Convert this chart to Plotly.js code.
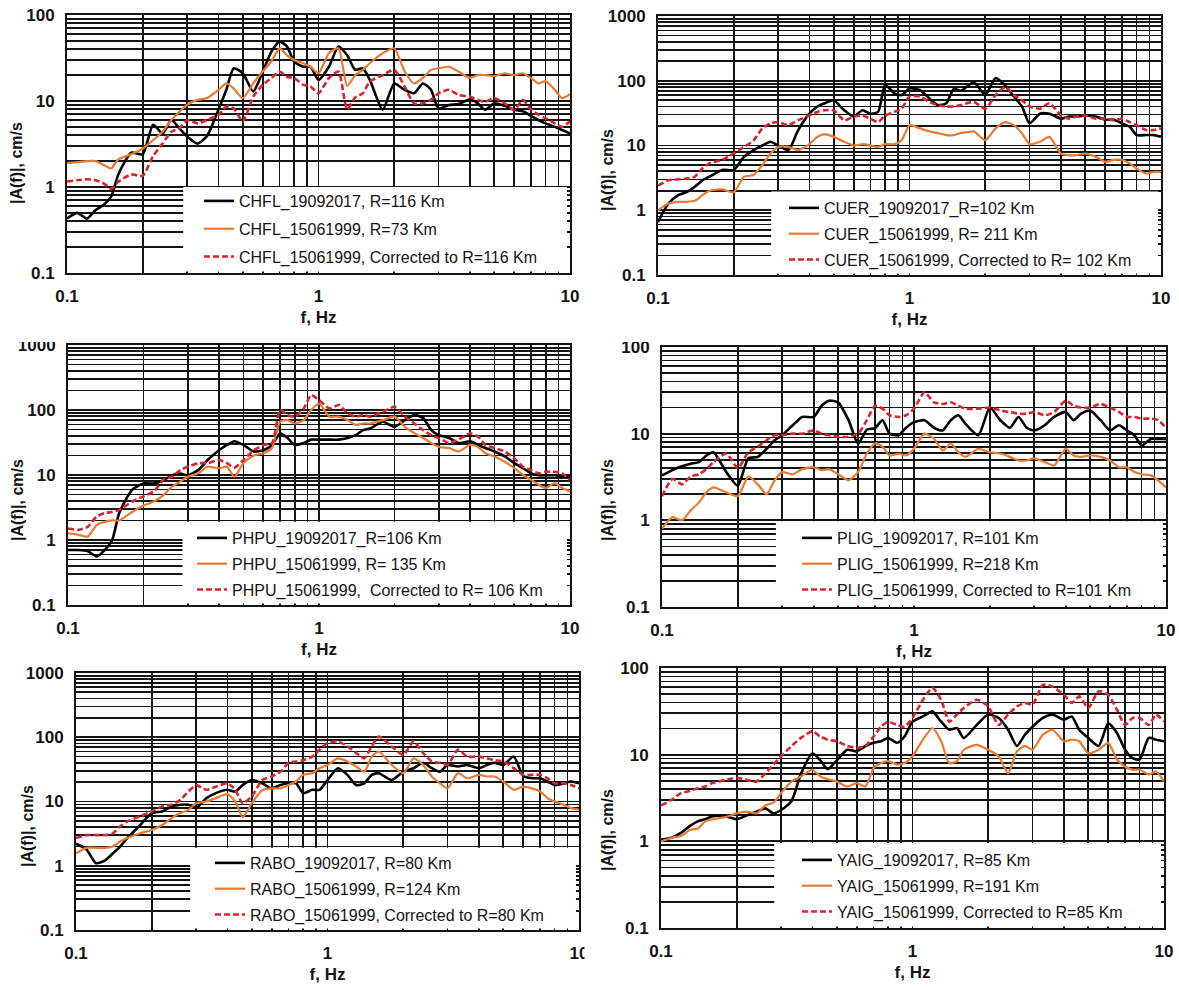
<!DOCTYPE html>
<html><head><meta charset="utf-8">
<script src="https://cdn.plot.ly/plotly-3.0.1.min.js"></script>
<style>html,body{margin:0;padding:0;background:#fff}#chart{width:1179px;height:988px}</style>
</head><body><div id="chart"></div>
<script>
// ---------- data (frequency in Hz, amplitude |A(f)| in cm/s) ----------
const freqHz = [0.10,0.11,0.12,0.13,0.14,0.15,0.16,0.18,0.20,0.22,0.24,0.26,0.28,0.30,0.33,0.36,0.40,0.43,0.46,0.50,0.55,0.60,0.65,0.70,0.75,0.80,0.87,0.93,
  1.0,1.1,1.2,1.3,1.4,1.5,1.6,1.8,2.0,2.2,2.4,2.6,2.8,3.0,3.3,3.6,4.0,4.3,4.6,5.0,5.5,6.0,6.5,7.0,7.5,8.0,8.7,9.3,
  10];

const chfl2017 = [0.43,0.50,0.43,0.54,0.62,0.78,1.4,2.5,2.4,5.3,4.2,6.0,4.8,3.9,3.2,3.9,7.9,13.5,24,21,12.9,22,37.5,49,43,28.7,25,25,
  17.6,25,43,34,23,24,17.6,7.9,16,13.5,12.3,16,13.5,8.2,9.0,9.2,10.5,9.4,7.9,9.4,8.8,7.9,7.6,6.7,6.0,5.5,5.0,4.6,
  4.2];
const chfl1999 = [1.9,1.95,2.0,2.0,1.8,1.65,2.1,2.4,2.8,3.5,4.4,6.0,7.5,9.0,10.3,10.8,13.5,16,14,10.8,16,22,29,41,34,30,27.5,25,
  21,36,41,15,20,23,27.5,36,41,22,16,18.5,23,24,25,22,18.5,20,20,19.5,21,20,21,18.5,16,17,13.5,10.8,
  12];
const chfl1999Corr = [1.16,1.2,1.23,1.2,1.1,0.95,1.15,1.4,1.35,2.3,3.2,4.4,4.8,6.0,5.5,6.0,6.9,8.6,8.2,5.8,11.2,15.4,18.5,22,19,18.5,15.4,14.7,
  12.3,18.5,22,8,11,12.3,16.8,20,23,14.7,9.4,9.4,10.3,12.3,13.5,11.8,11.2,10.3,9.8,10.8,9.4,7.9,10.3,7.9,6.9,6.3,5.5,5.0,
  5.8];

const cuer2017 = [0.66,1.27,1.7,1.9,2.3,2.9,3.3,4.2,4.2,6.7,8.5,10,11.4,10,8.5,17,31,40,45,50,35,28,35,31,33,86,64,60,
  76,72,53,42,45,75,70,95,60,110,85,57,40,22,31,31,26,28,28,29,28,25,25,22,19.5,14.5,14.5,14.5,
  13.7];
const cuer1999 = [1.0,1.27,1.35,1.35,1.4,1.7,2.0,2.1,1.9,3.3,3.5,5.0,7.5,9.5,9.5,8.5,10.5,13.6,15,13.6,11.4,10,10.5,10,9.5,10.5,10.5,12,
  20.6,18.4,16.5,15.5,14.5,14.5,15.5,16.5,12,18.4,23,20.6,15.5,10.5,11.4,13.6,7.5,7.1,7.1,7.5,6.7,5.6,6.0,6.0,5.3,4.4,3.7,3.9,
  3.9];
const cuer1999Corr = [2.4,2.9,3.0,3.1,3.3,4.4,5.3,6.0,7.5,9.5,12,18.4,22,23,20.6,24.5,29,33,35,35,24.5,28,29,26,23,29,33,37,
  57,57,47,42,40,40,42,47,37,60,80,60,50,40,37,45,29,26,28,29,26,26,24.5,26,23,20.6,17.3,17.3,
  18.4];

const phpu2017 = [0.70,0.70,0.67,0.56,0.7,1.0,2.6,5.9,7.4,7.4,8.3,9.9,10.5,9.9,11.9,17,24,29,33,29,23,24,29,44,37,29,31,35,
  35,35,35,37,41,49,52,66,55,70,84,75,49,41,37,31,33,29,26,23,19.3,15.2,12.7,10.6,9.9,9.9,9.9,9.4,
  9.4];
const phpu1999 = [1.27,1.2,1.13,1.7,1.9,2.0,2.0,2.7,3.4,3.9,4.9,6.6,7.9,9.4,10.6,13.4,12.7,13.4,9.4,15.2,20,21.6,26,66,70,62,70,100,
  126,79,79,70,59,62,62,70,79,55,44,37,31,27,26,23,29,27,21.6,19.3,16,12.7,10,8.4,7.1,6.3,7.5,6.3,
  5.6];
const phpu1999Corr = [1.5,1.43,1.6,2.3,2.6,2.7,2.9,3.9,4.7,5.6,8.4,9.4,11.9,13.4,15.2,15.2,17,15.2,13,17,24,29,31,100,84,79,106,170,
  142,106,119,89,79,84,79,94,112,79,62,49,41,37,31,35,44,39,29,26,23,18,13.4,11.9,10.6,11.2,11.2,10.6,
  8.4];

const plig2017 = [3.3,3.8,4.2,4.5,4.7,5.6,6.1,3.6,2.5,5.2,5.4,6.7,8.4,9.6,12.5,15.6,15.6,21,24,23,14.3,7.7,11.1,11.6,14.3,10,9.6,11.7,
  13.6,14.3,11.7,10.9,14.3,16.3,13,9.6,20,14.3,11.7,15.6,11.7,10.9,12.5,15.6,17.8,14.3,17,18.5,14.3,10.9,12.5,10.9,9.6,7.3,8.7,8.7,
  8.7];
const plig1999 = [0.80,1.09,1.0,1.3,1.6,2.1,2.4,2.1,1.9,3.2,2.6,2.0,2.9,3.6,3.4,3.9,4.1,3.8,3.9,3.4,2.9,3.6,5.9,7.7,7.1,5.6,5.9,5.6,
  6.7,10,8.8,6.4,7.7,6.1,5.4,6.7,6.1,5.9,5.4,4.9,4.9,5.2,4.7,4.3,6.7,5.6,5.4,5.6,5.4,4.9,4.1,4.1,3.6,3.4,3.3,2.9,
  2.4];
const plig1999Corr = [1.9,3.0,2.6,3.2,3.4,3.9,4.7,5.9,4.0,6.1,7.1,8.4,9.6,9.6,10,10,10.9,10,9.6,9.2,9.2,10,14.3,21,19.4,16.3,15.6,16.3,
  19.4,30,23,22,23,21,19.4,19.4,20,18.5,17.8,17,17,17.8,16.3,17.8,24,21,20,20,22,20,17.8,15.6,15.6,14.9,14.9,14.3,
  11.7];

const rabo2017 = [2.2,1.8,1.1,1.2,1.55,2.0,2.7,4.3,6.6,7.0,8.4,8.9,8.9,7.9,11.3,13.5,15.2,14.3,18,21.6,19.2,16,18,19.2,19.2,13.5,15.2,15.2,
  21.6,33,26,18,19.2,26,27.6,21.6,29,33,40,33,29,37,35,37,33,37,40,37,50,25,23,23,20.5,18,19.2,20.5,
  19.2];
const rabo1999 = [1.56,1.9,1.9,1.9,2.0,2.4,2.7,3.2,3.6,4.3,5.5,6.6,7.4,9.4,10,11.3,13,10,5.7,9.4,15,16,16,18,20.5,26,27.6,33,
  37,47,42,35,29,50,60,37,27.6,47,37,24.5,19.2,16,27.6,23,26,24.5,24.5,20.5,15.2,17,16,14.3,11.3,10,8.9,7.9,
  7.5];
const rabo1999Corr = [2.7,3.0,3.0,3.0,3.2,4.1,4.9,5.9,7.0,8.4,8.9,10.6,14.3,18,15.2,17,19.2,15.2,9.4,12,21.6,24.5,29,40,42,44,50,64,
  81,86,72,57,47,72,103,72,53,86,57,42,40,37,64,50,50,47,44,42,33,26,26,26,23,19.2,19.2,18,
  16];

const yaig2017 = [1.05,1.1,1.25,1.5,1.7,1.8,1.95,1.95,1.8,2.0,2.2,2.4,2.1,2.3,2.9,6.0,10.4,8.6,6.8,8.6,11.4,10.9,12.6,13.7,14.3,15.6,13.7,16.2,
  24,27.6,31.6,24,19.4,20.3,15.6,22,29,26.5,19.4,12.6,17,21,26.5,29,25.4,27.6,19.4,15.6,12.6,23,17.8,11.4,9.1,8.8,15.6,14.9,
  14.3];
const yaig1999 = [1.0,1.1,1.15,1.35,1.4,1.7,1.8,1.9,2.1,2.2,2.1,2.6,2.8,3.6,4.9,5.6,6.7,5.6,5.2,4.9,4.3,4.7,4.3,7.0,8.0,8.4,7.7,8.0,
  9.6,14.9,20.3,14.3,8.0,8.4,11.4,13,11.4,9.6,6.1,10.9,12.6,11.4,17,19.4,14.3,14.9,14.3,10.4,11.4,13.7,8.8,7.3,6.7,6.7,5.9,6.4,
  4.9];
const yaig1999Corr = [2.6,3.0,3.6,3.8,4.1,4.3,4.7,5.1,5.4,5.1,4.9,6.1,7.7,9.6,12.5,15.6,18.6,16.2,14.9,14.3,12.6,12,12.6,16.2,21,24,22,21,
  26.5,43,59,43,24,29,34.6,43,36,22,29,36,39.5,37.8,64,61,49,39.5,47,34.6,54,49,33,22,26.5,26.5,22,29,
  24];

// legend labels
const chflNames = ['CHFL_19092017, R=116 Km','CHFL_15061999, R=73 Km','CHFL_15061999, Corrected to R=116 Km'];
const cuerNames = ['CUER_19092017_R=102 Km','CUER_15061999, R= 211 Km','CUER_15061999, Corrected to R= 102 Km'];
const phpuNames = ['PHPU_19092017_R=106 Km','PHPU_15061999, R= 135 Km','PHPU_15061999,\u00a0 Corrected to R= 106 Km'];
const pligNames = ['PLIG_19092017, R=101 Km','PLIG_15061999, R=218 Km','PLIG_15061999, Corrected to R=101 Km'];
const raboNames = ['RABO_19092017, R=80 Km','RABO_15061999, R=124 Km','RABO_15061999, Corrected to R=80 Km'];
const yaigNames = ['YAIG_19092017, R=85 Km','YAIG_15061999, R=191 Km','YAIG_15061999, Corrected to R=85 Km'];

// tick values (log grid) and labelled major ticks
const xTickVals = [0.1,0.2,0.3,0.4,0.5,0.6,0.7,0.8,0.9,1,2,3,4,5,6,7,8,9,10];
const yTickVals = [0.1,0.2,0.3,0.4,0.5,0.6,0.7,0.8,0.9,1,2,3,4,5,6,7,8,9,10,20,30,40,50,60,70,80,90,100,200,300,400,500,600,700,800,900,1000];
const majorTickLabels = {0.1:'0.1',1:'1',10:'10',100:'100',1000:'1000'};
const xAxisTitle = 'f, Hz';
const yAxisTitle = '|A(f)|, cm/s';

// ---------- layout of the six panels (pixel boxes in the 1179x988 page) ----------
const W = 1179, H = 988;
const panels = [
  {names:chflNames, series:[chfl2017,chfl1999,chfl1999Corr], yTop:100,  px:[67,570],  py:[15,273],  boxX:0.231, boxTop:0.333, leg:[199,184], gap:4, yt:[17,163]},
  {names:cuerNames, series:[cuer2017,cuer1999,cuer1999Corr], yTop:1000, px:[658,1161], py:[16,275],  boxX:0.225, boxTop:0.322, leg:[784,191], gap:2, yt:[607,170]},
  {names:phpuNames, series:[phpu2017,phpu1999,phpu1999Corr], yTop:1000, px:[68,570],   py:[345,605], boxX:0.228, boxTop:0.320, leg:[192,521], gap:2, yt:[17,500]},
  {names:pligNames, series:[plig2017,plig1999,plig1999Corr], yTop:100,  px:[662,1166], py:[347,607], boxX:0.226, boxTop:0.330, leg:[797,521], gap:2, yt:[607,500]},
  {names:raboNames, series:[rabo2017,rabo1999,rabo1999Corr], yTop:1000, px:[76,579],   py:[673,930], boxX:0.227, boxTop:0.320, leg:[210,846], gap:2, yt:[27,826]},
  {names:yaigNames, series:[yaig2017,yaig1999,yaig1999Corr], yTop:100,  px:[661,1164], py:[668,928], boxX:0.225, boxTop:0.327, leg:[797,843], gap:2, yt:[607,830]}
];

const lineStyles = [
  {color:'#000000', width:2.6},
  {color:'#EA7A31', width:2.2},
  {color:'#D9232E', width:2.6, dash:'6px,3px'}
];

const ink = '#141414';
const boldFont = {family:'Liberation Sans, Arial, sans-serif', size:17, color:ink, weight:'bold'};

const traces = [];
const layout = {
  width:W, height:H, margin:{l:0,r:0,t:0,b:0},
  paper_bgcolor:'#ffffff', plot_bgcolor:'#ffffff',
  showlegend:true, shapes:[], annotations:[],
  font:{family:'Liberation Sans, Arial, sans-serif', color:ink}
};

panels.forEach((p,i)=>{
  const k = i+1;
  const xs = k===1 ? '' : String(k);
  const xa = 'x'+xs, ya = 'y'+xs;
  const legKey = 'legend'+xs;
  p.series.forEach((ys,j)=>{
    traces.push({
      type:'scatter', mode:'lines', x:freqHz, y:ys,
      xaxis:xa, yaxis:ya, name:p.names[j],
      legend:legKey, legendgroup:'p'+k+'s'+j,
      line:Object.assign({shape:'spline', smoothing:0.6}, lineStyles[j]),
      hoverinfo:'x+y+name'
    });
  });
  const yVals = yTickVals.filter(v=>v<=p.yTop+1e-9);
  const common = {
    type:'log', showgrid:true, gridcolor:ink, gridwidth:1.7,
    showline:true, mirror:true, linecolor:ink, linewidth:2,
    ticks:'outside', ticklen:7, tickcolor:'rgba(0,0,0,0)',
    tickfont:boldFont, zeroline:false, fixedrange:true, automargin:false
  };
  layout['xaxis'+xs] = Object.assign({}, common, {
    domain:[p.px[0]/W, p.px[1]/W], anchor:ya, range:[-1,1],
    tickmode:'array', tickvals:xTickVals, ticktext:xTickVals.map(v=>majorTickLabels[v]||''),
    title:{text:xAxisTitle, font:boldFont, standoff:6}
  });
  layout['yaxis'+xs] = Object.assign({}, common, {
    domain:[1-p.py[1]/H, 1-p.py[0]/H], anchor:xa, range:[-1, Math.log10(p.yTop)],
    tickmode:'array', tickvals:yVals, ticktext:yVals.map(v=>majorTickLabels[v]||'')
  });
  // y-axis title, placed as in the source (slightly below the plot centre)
  layout.annotations.push({
    text:yAxisTitle, xref:'paper', yref:'paper', x:p.yt[0]/W, y:1-p.yt[1]/H,
    xanchor:'center', yanchor:'middle', textangle:-90, showarrow:false,
    font:Object.assign({}, boldFont, {size:16})
  });
  layout[legKey] = {
    x:p.leg[0]/W, y:1-p.leg[1]/H, xanchor:'left', yanchor:'top',
    bgcolor:'rgba(0,0,0,0)', borderwidth:0, traceorder:'grouped',
    font:{family:'Liberation Sans, Arial, sans-serif', size:16, color:ink},
    tracegroupgap:p.gap
  };
  // white legend panel covering the grid in the lower right corner
  layout.shapes.push({
    type:'rect', xref:xa+' domain', yref:ya+' domain',
    x0:p.boxX, x1:0.994, y0:0.006, y1:p.boxTop,
    fillcolor:'#ffffff', line:{width:0}, layer:'above'
  });
});

// page-composition cuts seen in the source figure
layout.shapes.push({type:'rect', xref:'paper', yref:'paper', x0:0, x1:1, y0:1-342/H, y1:1-330/H, fillcolor:'#ffffff', line:{width:0}, layer:'above'});
layout.shapes.push({type:'rect', xref:'paper', yref:'paper', x0:584.5/W, x1:628/W, y0:1-970/H, y1:1-940/H, fillcolor:'#ffffff', line:{width:0}, layer:'above'});

Plotly.newPlot('chart', traces, layout, {displayModeBar:false, staticPlot:true});
</script>
</body></html>
